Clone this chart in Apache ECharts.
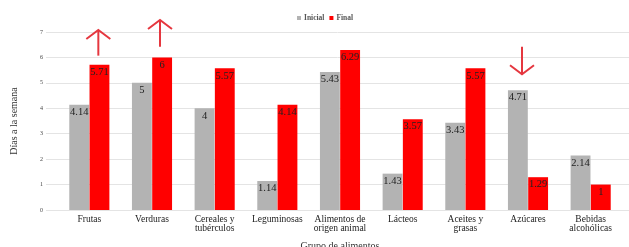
<!DOCTYPE html>
<html>
<head>
<meta charset="utf-8">
<script src="https://cdn.jsdelivr.net/npm/echarts@6/dist/echarts.min.js"></script>
<style>html,body{margin:0;padding:0;background:#fff}#c{width:629px;height:247px}</style>
</head>
<body>
<div id="c"></div>
<script>
const categories = ['Frutas', 'Verduras', 'Cereales y\ntubérculos', 'Leguminosas', 'Alimentos de\norigen animal', 'Lácteos', 'Aceites y\ngrasas', 'Azúcares', 'Bebidas\nalcohólicas'];
const inicial = [4.14, 5, 4, 1.14, 5.43, 1.43, 3.43, 4.71, 2.14];
const final = [5.71, 6, 5.57, 4.14, 6.29, 3.57, 5.57, 1.29, 1];
const yTicks = [0, 1, 2, 3, 4, 5, 6, 7];
// annotation arrows: category index, start value, end (tip) value
const arrowCats = [0, 1, 7];
const arrowFrom = [6.07, 6.42, 6.42];
const arrowTo = [7.08, 7.47, 5.34];

const serif = '"Liberation Serif","DejaVu Serif",serif';
const chart = echarts.init(document.getElementById('c'));
const labelCfg = {show: true, position: 'insideTop', distance: 2, fontFamily: serif, fontSize: 10.5, color: '#222'};
chart.setOption({
  animation: false,
  legend: {
    top: 9, left: 292, itemWidth: 4, itemHeight: 4, itemGap: 5, icon: 'rect',
    textStyle: {fontFamily: serif, fontSize: 7.5, fontWeight: 'bold', color: '#555', padding: [0, 0, 0, -2]},
    data: ['Inicial', 'Final']
  },
  grid: [
    {left: 46, right: 0, top: 32, height: 178, containLabel: false, outerBoundsMode: 'none'},
    {left: 58, width: 564, top: 32, height: 178, containLabel: false, outerBoundsMode: 'none'}
  ],
  xAxis: [
    {type: 'value', gridIndex: 0, show: false, min: 0, max: 1},
    {type: 'category', gridIndex: 1, data: categories,
      axisLine: {show: false}, axisTick: {show: false},
      axisLabel: {fontFamily: serif, fontSize: 9.5, color: '#222', margin: 5, lineHeight: 9, interval: 0},
      name: 'Grupo de alimentos', nameLocation: 'middle', nameGap: 31,
      nameTextStyle: {fontFamily: serif, fontSize: 10, color: '#333'}}
  ],
  yAxis: [
    {type: 'value', gridIndex: 0, min: yTicks[0], max: yTicks[yTicks.length - 1], interval: 1,
      axisLine: {show: false}, axisTick: {show: false},
      axisLabel: {fontFamily: serif, fontSize: 6, color: '#444', margin: 3},
      splitLine: {lineStyle: {color: '#e4e4e4', width: 1}},
      name: 'Días a la semana', nameLocation: 'middle', nameGap: 27,
      nameTextStyle: {fontFamily: serif, fontSize: 10, color: '#333'}},
    {type: 'value', gridIndex: 1, min: 0, max: 7, show: false}
  ],
  series: [
    {name: 'Inicial', type: 'bar', xAxisIndex: 1, yAxisIndex: 1, data: inicial,
      itemStyle: {color: '#b3b3b3'}, barGap: '2%', barCategoryGap: '36%', label: labelCfg},
    {name: 'Final', type: 'bar', xAxisIndex: 1, yAxisIndex: 1, data: final,
      itemStyle: {color: '#ff0000'}, label: labelCfg}
  ]
});

// arrows, placed through the chart's own scales
const offsets = [9, 8, -6];
const graphics = [];
arrowCats.forEach((ci, i) => {
  const p0 = chart.convertToPixel({xAxisIndex: 1, yAxisIndex: 1}, [ci, arrowFrom[i]]);
  const p1 = chart.convertToPixel({xAxisIndex: 1, yAxisIndex: 1}, [ci, arrowTo[i]]);
  const x = p0[0] + offsets[i];
  const dir = p1[1] < p0[1] ? 1 : -1;
  const style = {stroke: '#e5373f', lineWidth: 2, fill: null};
  graphics.push({type: 'line', shape: {x1: x, y1: p0[1], x2: x, y2: p1[1]}, style: style, z: 10});
  graphics.push({type: 'polyline', shape: {points: [[x - 12, p1[1] + dir * 9], [x, p1[1]], [x + 12, p1[1] + dir * 9]]}, style: style, z: 10});
});
chart.setOption({graphic: graphics});
</script>
</body>
</html>
